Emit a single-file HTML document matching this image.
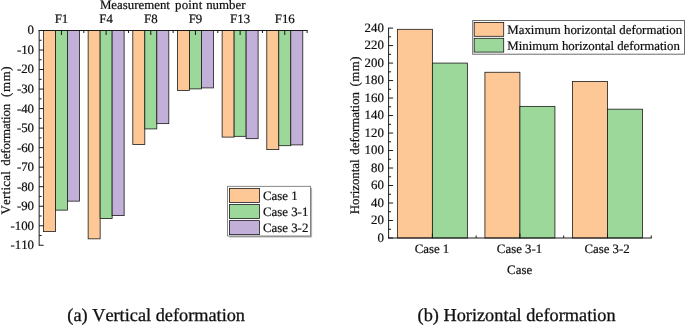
<!DOCTYPE html>
<html><head><meta charset="utf-8"><title>Deformation charts</title>
<style>
html,body{margin:0;padding:0;background:#fff;}
svg{display:block;}
text{text-rendering:geometricPrecision;font-kerning:none;font-family:"Liberation Serif","Times New Roman",serif;fill:#111;stroke:#111;stroke-width:0.22px;}
.t{font-size:12.85px;}
.tw{font-size:12.9px;}
.ti{font-size:12.9px;}
.cap{font-size:18.3px;stroke-width:0.3px;}
.ax{stroke:#1a1a1a;stroke-width:1;fill:none;}
.tk{stroke:#1a1a1a;stroke-width:1;fill:none;}
.b{stroke:#1a1a1a;stroke-width:0.8;}
.lg{fill:#fff;stroke:#6a6a6a;stroke-width:0.8;}
</style></head><body>
<svg width="685" height="325" viewBox="0 0 685 325">
<rect x="0" y="0" width="685" height="325" fill="#fff"/>

<g>
<rect class="b" x="43.48" y="30.50" width="12.00" height="201.11" fill="#FDC896"/>
<rect class="b" x="55.48" y="30.50" width="12.00" height="179.63" fill="#9DD89B"/>
<rect class="b" x="67.48" y="30.50" width="12.00" height="170.65" fill="#C2B0D9"/>
<rect class="b" x="88.14" y="30.50" width="12.00" height="208.33" fill="#FDC896"/>
<rect class="b" x="100.14" y="30.50" width="12.00" height="188.03" fill="#9DD89B"/>
<rect class="b" x="112.14" y="30.50" width="12.00" height="185.10" fill="#C2B0D9"/>
<rect class="b" x="132.80" y="30.50" width="12.00" height="114.03" fill="#FDC896"/>
<rect class="b" x="144.80" y="30.50" width="12.00" height="98.41" fill="#9DD89B"/>
<rect class="b" x="156.80" y="30.50" width="12.00" height="93.13" fill="#C2B0D9"/>
<rect class="b" x="177.46" y="30.50" width="12.00" height="59.94" fill="#FDC896"/>
<rect class="b" x="189.46" y="30.50" width="12.00" height="58.38" fill="#9DD89B"/>
<rect class="b" x="201.46" y="30.50" width="12.00" height="57.40" fill="#C2B0D9"/>
<rect class="b" x="222.12" y="30.50" width="12.00" height="106.61" fill="#FDC896"/>
<rect class="b" x="234.12" y="30.50" width="12.00" height="105.83" fill="#9DD89B"/>
<rect class="b" x="246.12" y="30.50" width="12.00" height="108.17" fill="#C2B0D9"/>
<rect class="b" x="266.78" y="30.50" width="12.00" height="119.10" fill="#FDC896"/>
<rect class="b" x="278.78" y="30.50" width="12.00" height="115.20" fill="#9DD89B"/>
<rect class="b" x="290.78" y="30.50" width="12.00" height="114.42" fill="#C2B0D9"/>
<path class="ax" d="M39.15 30.00 V245.77"/>
<path class="ax" d="M38.65 30.50 H307.61"/>
<path class="tk" d="M39.15 30.50h4.5M39.15 40.26h2.5M39.15 50.02h4.5M39.15 59.79h2.5M39.15 69.55h4.5M39.15 79.31h2.5M39.15 89.07h4.5M39.15 98.84h2.5M39.15 108.60h4.5M39.15 118.36h2.5M39.15 128.12h4.5M39.15 137.89h2.5M39.15 147.65h4.5M39.15 157.41h2.5M39.15 167.17h4.5M39.15 176.94h2.5M39.15 186.70h4.5M39.15 196.46h2.5M39.15 206.22h4.5M39.15 215.99h2.5M39.15 225.75h4.5M39.15 235.51h2.5M39.15 245.27h4.5M61.48 30.50v4.5M83.81 30.50v2.5M106.14 30.50v4.5M128.47 30.50v2.5M150.80 30.50v4.5M173.13 30.50v2.5M195.46 30.50v4.5M217.79 30.50v2.5M240.12 30.50v4.5M262.45 30.50v2.5M284.78 30.50v4.5M307.11 30.50v2.5"/>
<text class="t" x="34" y="34.40" text-anchor="end">0</text>
<text class="t" x="34" y="53.92" text-anchor="end">-10</text>
<text class="t" x="34" y="73.45" text-anchor="end">-20</text>
<text class="t" x="34" y="92.97" text-anchor="end">-30</text>
<text class="t" x="34" y="112.50" text-anchor="end">-40</text>
<text class="t" x="34" y="132.03" text-anchor="end">-50</text>
<text class="t" x="34" y="151.55" text-anchor="end">-60</text>
<text class="t" x="34" y="171.07" text-anchor="end">-70</text>
<text class="t" x="34" y="190.60" text-anchor="end">-80</text>
<text class="t" x="34" y="210.12" text-anchor="end">-90</text>
<text class="t" x="34" y="229.65" text-anchor="end">-100</text>
<text class="t" x="34" y="249.17" text-anchor="end">-110</text>
<text class="t" x="61.48" y="23.15" text-anchor="middle">F1</text>
<text class="t" x="106.14" y="23.15" text-anchor="middle">F4</text>
<text class="t" x="150.80" y="23.15" text-anchor="middle">F8</text>
<text class="t" x="195.46" y="23.15" text-anchor="middle">F9</text>
<text class="t" x="240.12" y="23.15" text-anchor="middle">F13</text>
<text class="t" x="284.78" y="23.15" text-anchor="middle">F16</text>
<text class="tw" x="99.91" y="8.60" style="letter-spacing:-0.016px">Measurement</text>
<text class="tw" x="175.11" y="8.60" style="letter-spacing:0.162px">point</text>
<text class="tw" x="206.21" y="8.60" style="letter-spacing:-0.024px">number</text>
<text class="tw" transform="translate(9.70 214.56) rotate(-90)" style="letter-spacing:0.269px">Vertical</text>
<text class="tw" transform="translate(9.70 165.65) rotate(-90)" style="letter-spacing:-0.110px">deformation</text>
<text class="tw" transform="translate(9.70 96.88) rotate(-90)" style="letter-spacing:0.597px">(mm)</text>
<rect x="229.2" y="187.9" width="82.9" height="49.6" fill="#b2b2b2"/>
<rect class="lg" x="227.6" y="186.3" width="82.9" height="49.7"/>
<rect class="b" x="229.4" y="188.40" width="30" height="14" fill="#FDC896"/>
<text class="t" x="263" y="200.00">Case 1</text>
<rect class="b" x="229.4" y="204.50" width="30" height="14" fill="#9DD89B"/>
<text class="t" x="263" y="216.20">Case 3-1</text>
<rect class="b" x="229.4" y="220.60" width="30" height="14" fill="#C2B0D9"/>
<text class="t" x="263" y="232.40">Case 3-2</text>
<text class="cap" x="156.2" y="321.3" text-anchor="middle">(a) Vertical deformation</text>
</g>
<g>
<rect class="b" x="397.38" y="29.32" width="35.00" height="208.68" fill="#FDC896"/>
<rect class="b" x="432.38" y="63.08" width="35.00" height="174.92" fill="#9DD89B"/>
<rect class="b" x="484.92" y="72.26" width="35.00" height="165.74" fill="#FDC896"/>
<rect class="b" x="519.92" y="106.37" width="35.00" height="131.63" fill="#9DD89B"/>
<rect class="b" x="572.48" y="81.45" width="35.00" height="156.55" fill="#FDC896"/>
<rect class="b" x="607.48" y="109.17" width="35.00" height="128.83" fill="#9DD89B"/>
<path class="ax" d="M388.60 27.60 V238.50"/>
<path class="ax" d="M388.10 238.00 H651.75"/>
<path class="tk" d="M388.60 238.00h4.5M388.60 229.25h2.5M388.60 220.51h4.5M388.60 211.76h2.5M388.60 203.02h4.5M388.60 194.27h2.5M388.60 185.52h4.5M388.60 176.78h2.5M388.60 168.03h4.5M388.60 159.29h2.5M388.60 150.54h4.5M388.60 141.79h2.5M388.60 133.05h4.5M388.60 124.30h2.5M388.60 115.56h4.5M388.60 106.81h2.5M388.60 98.06h4.5M388.60 89.32h2.5M388.60 80.57h4.5M388.60 71.83h2.5M388.60 63.08h4.5M388.60 54.33h2.5M388.60 45.59h4.5M388.60 36.84h2.5M388.60 28.10h4.5M432.38 238.00v-4.5M476.15 238.00v-2.5M519.92 238.00v-4.5M563.70 238.00v-2.5M607.48 238.00v-4.5M651.25 238.00v-2.5"/>
<text class="t" x="383.8" y="241.50" text-anchor="end">0</text>
<text class="t" x="383.8" y="224.01" text-anchor="end">20</text>
<text class="t" x="383.8" y="206.52" text-anchor="end">40</text>
<text class="t" x="383.8" y="189.02" text-anchor="end">60</text>
<text class="t" x="383.8" y="171.53" text-anchor="end">80</text>
<text class="t" x="383.8" y="154.04" text-anchor="end">100</text>
<text class="t" x="383.8" y="136.55" text-anchor="end">120</text>
<text class="t" x="383.8" y="119.06" text-anchor="end">140</text>
<text class="t" x="383.8" y="101.56" text-anchor="end">160</text>
<text class="t" x="383.8" y="84.07" text-anchor="end">180</text>
<text class="t" x="383.8" y="66.58" text-anchor="end">200</text>
<text class="t" x="383.8" y="49.09" text-anchor="end">220</text>
<text class="t" x="383.8" y="31.60" text-anchor="end">240</text>
<text class="t" x="431.98" y="252.7" text-anchor="middle">Case 1</text>
<text class="t" x="519.52" y="252.7" text-anchor="middle">Case 3-1</text>
<text class="t" x="607.08" y="252.7" text-anchor="middle">Case 3-2</text>
<text class="ti" x="519.6" y="274" text-anchor="middle">Case</text>
<text class="tw" transform="translate(358.80 214.29) rotate(-90)" style="letter-spacing:-0.034px">Horizontal</text>
<text class="tw" transform="translate(358.80 154.75) rotate(-90)" style="letter-spacing:-0.020px">deformation</text>
<text class="tw" transform="translate(358.80 86.58) rotate(-90)" style="letter-spacing:0.497px">(mm)</text>
<rect class="lg" style="stroke-width:1;stroke:#6c6c6c" x="472.7" y="20.5" width="211.8" height="33.7"/>
<rect class="b" x="474.2" y="22.50" width="29.5" height="13.8" fill="#FDC896"/>
<text class="t" x="507.3" y="34.10">Maximum horizontal deformation</text>
<rect class="b" x="474.2" y="38.30" width="29.5" height="13.8" fill="#9DD89B"/>
<text class="t" x="507.3" y="49.80">Minimum horizontal deformation</text>
<text class="cap" x="516.6" y="321.3" text-anchor="middle">(b) Horizontal deformation</text>
</g>
</svg>
</body></html>
